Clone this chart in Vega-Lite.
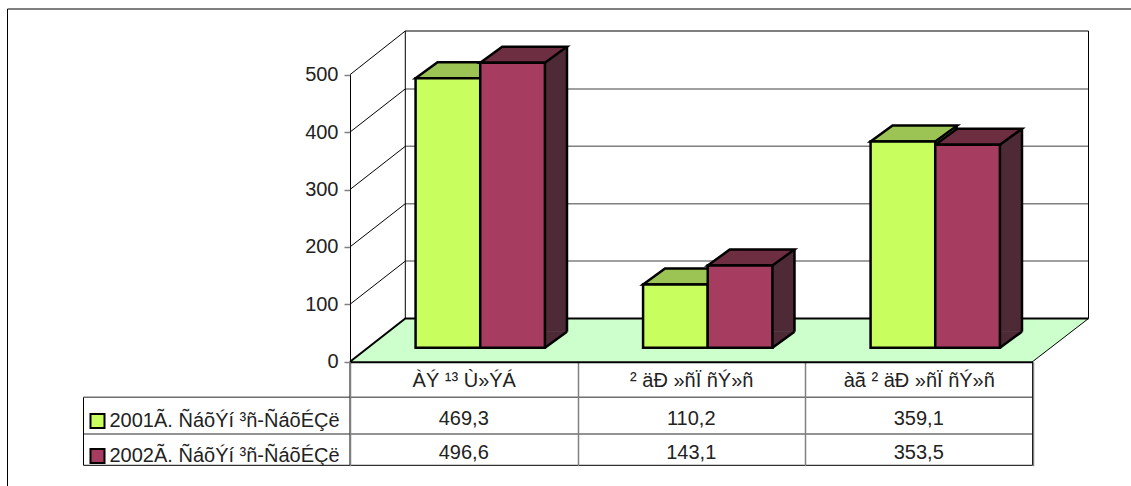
{
"$schema":"https://vega.github.io/schema/vega-lite/v6.json",
"width":1131,"height":486,"autosize":"none","padding":0,"background":"white",
"config":{"view":{"stroke":null},"font":"Liberation Sans","style":{"cell":{"stroke":null}}},
"datasets":{
"bars":[
{"cat":"ÀÝ ¹³ Ù»ÝÁ","series":"2001Ã. ÑáõÝí ³ñ-ÑáõÉÇë","value":469.3,"label":"469,3"},
{"cat":"ÀÝ ¹³ Ù»ÝÁ","series":"2002Ã. ÑáõÝí ³ñ-ÑáõÉÇë","value":496.6,"label":"496,6"},
{"cat":"² äÐ »ñÏ ñÝ»ñ","series":"2001Ã. ÑáõÝí ³ñ-ÑáõÉÇë","value":110.2,"label":"110,2"},
{"cat":"² äÐ »ñÏ ñÝ»ñ","series":"2002Ã. ÑáõÝí ³ñ-ÑáõÉÇë","value":143.1,"label":"143,1"},
{"cat":"àã ² äÐ »ñÏ ñÝ»ñ","series":"2001Ã. ÑáõÝí ³ñ-ÑáõÉÇë","value":359.1,"label":"359,1"},
{"cat":"àã ² äÐ »ñÏ ñÝ»ñ","series":"2002Ã. ÑáõÝí ³ñ-ÑáõÉÇë","value":353.5,"label":"353,5"}
],
"origin":[{"tick":0}],
"ticks":[{"tick":100},{"tick":200},{"tick":300},{"tick":400}]
},
"resolve":{"scale":{"fill":"independent"}},
"layer":[
{"data":{"name":"origin"},"mark":{"type":"point","shape":"M0,0L55.3,-43.2H738.5L682.5,0Z","size":4,"filled":true,"fill":"#CCFFCC","opacity":1,"strokeWidth":0},
"encoding":{
"x":{"datum":"ÀÝ ¹³ Ù»ÝÁ","type":"nominal","bandPosition":0,"scale":{"domain":["ÀÝ ¹³ Ù»ÝÁ","² äÐ »ñÏ ñÝ»ñ","àã ² äÐ »ñÏ ñÝ»ñ"],"range":[350,1032.5],"paddingInner":0,"paddingOuter":0},
"axis":{"orient":"bottom","offset":-124.3,"title":null,"tickBand":"extent","tickSize":104,"tickColor":"#808080","tickWidth":1.5,"domainColor":"#000000","domainWidth":2,"labelAngle":0,"labelAlign":"center","labelBaseline":"middle","labelFontSize":20,"labelColor":"#222222","labelPadding":-85,"labelFont":"Liberation Sans","zindex":1,"grid":false}},
"y":{"field":"tick","type":"quantitative","scale":{"domain":[0,500],"range":[361.7,74.7],"nice":false,"zero":false},
"axis":{"orient":"left","offset":-350,"title":null,"values":[0,100,200,300,400,500],"tickSize":6,"tickColor":"#808080","tickWidth":1.5,"domainColor":"#000000","domainWidth":1,"labelFontSize":20,"labelColor":"#222222","labelPadding":6,"labelFont":"Liberation Sans","grid":false,"zindex":1}}}},
{"data":{"name":"ticks"},"mark":{"type":"point","shape":"M55.3,-43.2H738.5","size":4,"filled":false,"fill":null,"stroke":"#808080","strokeWidth":1.5,"opacity":1},
"encoding":{"x":{"datum":"ÀÝ ¹³ Ù»ÝÁ","type":"nominal","bandPosition":0},"y":{"field":"tick","type":"quantitative"}}},
{"data":{"name":"ticks"},"mark":{"type":"point","shape":"M0,0L55.3,-43.2","size":4,"filled":false,"fill":null,"stroke":"#000000","strokeWidth":1,"opacity":1},
"encoding":{"x":{"datum":"ÀÝ ¹³ Ù»ÝÁ","type":"nominal","bandPosition":0},"y":{"field":"tick","type":"quantitative"}}},
{"data":{"name":"origin"},"mark":{"type":"point","shape":"M0,-287L55.3,-330.7V-43.2M55.3,-330.7H738.5V-43.2L682.5,0","size":4,"filled":false,"fill":null,"stroke":"#000000","strokeWidth":1,"opacity":1},
"encoding":{"x":{"datum":"ÀÝ ¹³ Ù»ÝÁ","type":"nominal","bandPosition":0},"y":{"field":"tick","type":"quantitative"}}},
{"data":{"name":"origin"},"mark":{"type":"point","shape":"M0,0L55.3,-43.2H738.5","size":4,"filled":false,"fill":null,"stroke":"#000000","strokeWidth":2,"opacity":1},
"encoding":{"x":{"datum":"ÀÝ ¹³ Ù»ÝÁ","type":"nominal","bandPosition":0},"y":{"field":"tick","type":"quantitative"}}},
{"data":{"name":"origin"},"mark":{"type":"point","shape":"M-266.5,35.6H682.5M-266.5,72.3H682.5","size":4,"filled":false,"fill":null,"stroke":"#707070","strokeWidth":1.5,"opacity":1},
"encoding":{"x":{"datum":"ÀÝ ¹³ Ù»ÝÁ","type":"nominal","bandPosition":0},"y":{"field":"tick","type":"quantitative"}}},
{"data":{"name":"origin"},"mark":{"type":"point","shape":"M-266.5,35.6V103.6H682.5V0M0,0V103.6M-342.5,-352.7V124.3M-342.5,-352.7H781","size":4,"filled":false,"fill":null,"stroke":"#000000","strokeWidth":1,"opacity":1},
"encoding":{"x":{"datum":"ÀÝ ¹³ Ù»ÝÁ","type":"nominal","bandPosition":0},"y":{"field":"tick","type":"quantitative"}}},
{"data":{"name":"bars"},"transform":[{"filter":"datum.series === '2001Ã. ÑáõÝí ³ñ-ÑáõÉÇë'"}],"mark":{"type":"rule","stroke":"#80A040","strokeWidth":22,"yOffset":-14,"y2Offset":-30},
"encoding":{"x":{"field":"cat","type":"nominal","sort":null,"bandPosition":0.6176},"y":{"field":"value","type":"quantitative"},"y2":{"datum":0}}},
{"data":{"name":"bars"},"transform":[{"filter":"datum.series === '2002Ã. ÑáõÝí ³ñ-ÑáõÉÇë'"}],"mark":{"type":"rule","stroke":"#4D2A35","strokeWidth":22,"yOffset":-14,"y2Offset":-30},
"encoding":{"x":{"field":"cat","type":"nominal","sort":null,"bandPosition":0.9055},"y":{"field":"value","type":"quantitative"},"y2":{"datum":0}}},
{"data":{"name":"bars"},"mark":{"type":"point","shape":"M32.35,-13.5L54.35,-30V-13.5Z","size":4,"filled":true,"opacity":1,"strokeWidth":0},
"encoding":{"x":{"field":"cat","type":"nominal","sort":null},"xOffset":{"field":"series","type":"nominal","sort":null,"scale":{"paddingInner":0,"paddingOuter":0.759,"align":0.668}},"y":{"field":"value","type":"quantitative"},
"fill":{"field":"series","type":"nominal","legend":null,"scale":{"range":["#80A040","#4D2A35"]}}}},
{"data":{"name":"bars"},"mark":{"type":"point","shape":"M32.35,-14V-30.5H54.35Z","size":4,"filled":true,"opacity":1,"strokeWidth":0},
"encoding":{"x":{"field":"cat","type":"nominal","sort":null},"xOffset":{"field":"series","type":"nominal","sort":null},"y":{"datum":0},
"fill":{"field":"series","type":"nominal","legend":null,"scale":{"range":["#80A040","#4D2A35"]}}}},
{"data":{"name":"bars"},"transform":[{"filter":"datum.series === '2001Ã. ÑáõÝí ³ñ-ÑáõÉÇë'"}],"mark":{"type":"rule","stroke":"#000000","strokeWidth":2.5,"yOffset":-30,"y2Offset":-30},
"encoding":{"x":{"field":"cat","type":"nominal","sort":null,"bandPosition":0.666},"y":{"field":"value","type":"quantitative"},"y2":{"datum":0}}},
{"data":{"name":"bars"},"transform":[{"filter":"datum.series === '2002Ã. ÑáõÝí ³ñ-ÑáõÉÇë'"}],"mark":{"type":"rule","stroke":"#000000","strokeWidth":2.5,"yOffset":-30,"y2Offset":-30},
"encoding":{"x":{"field":"cat","type":"nominal","sort":null,"bandPosition":0.9538},"y":{"field":"value","type":"quantitative"},"y2":{"datum":0}}},
{"data":{"name":"bars"},"mark":{"type":"point","shape":"M32.35,-14L54.35,-30","size":4,"filled":false,"fill":null,"stroke":"#000000","strokeWidth":2.5,"opacity":1},
"encoding":{"x":{"field":"cat","type":"nominal","sort":null},"xOffset":{"field":"series","type":"nominal","sort":null},"y":{"datum":0}}},
{"data":{"name":"bars"},"mark":{"type":"point","shape":"M-32.35,-14L-10.35,-30H54.35L32.35,-14Z","size":4,"filled":true,"opacity":1,"stroke":"#000000","strokeWidth":2.5},
"encoding":{"x":{"field":"cat","type":"nominal","sort":null},"xOffset":{"field":"series","type":"nominal","sort":null},"y":{"field":"value","type":"quantitative"},
"fill":{"field":"series","type":"nominal","legend":null,"scale":{"range":["#9CC454","#6E2E42"]}}}},
{"data":{"name":"bars"},"mark":{"type":"bar","yOffset":-14,"y2Offset":-14,"stroke":"#000000","strokeWidth":2.5},
"encoding":{"x":{"field":"cat","type":"nominal","sort":null},"xOffset":{"field":"series","type":"nominal","sort":null},"y":{"field":"value","type":"quantitative"},"y2":{"datum":0},
"fill":{"field":"series","type":"nominal","sort":null,"scale":{"range":["#C8FF5E","#A63C60"]},
"legend":{"orient":"none","legendX":87.5,"legendY":411,"title":null,"symbolType":"square","symbolSize":196,"symbolStrokeColor":"#000000","symbolStrokeWidth":2,"labelFontSize":20,"labelColor":"#222222","labelFont":"Liberation Sans","labelLimit":300,"rowPadding":13,"padding":0,"labelOffset":2}}}},
{"data":{"name":"bars"},"transform":[{"filter":"datum.series === '2001Ã. ÑáõÝí ³ñ-ÑáõÉÇë'"}],"mark":{"type":"text","fontSize":20,"dy":57.5,"align":"center","baseline":"middle","color":"#222222"},
"encoding":{"x":{"field":"cat","type":"nominal","sort":null},"y":{"datum":0},"text":{"field":"label","type":"nominal"}}},
{"data":{"name":"bars"},"transform":[{"filter":"datum.series === '2002Ã. ÑáõÝí ³ñ-ÑáõÉÇë'"}],"mark":{"type":"text","fontSize":20,"dy":91,"align":"center","baseline":"middle","color":"#222222"},
"encoding":{"x":{"field":"cat","type":"nominal","sort":null},"y":{"datum":0},"text":{"field":"label","type":"nominal"}}}
]
}
